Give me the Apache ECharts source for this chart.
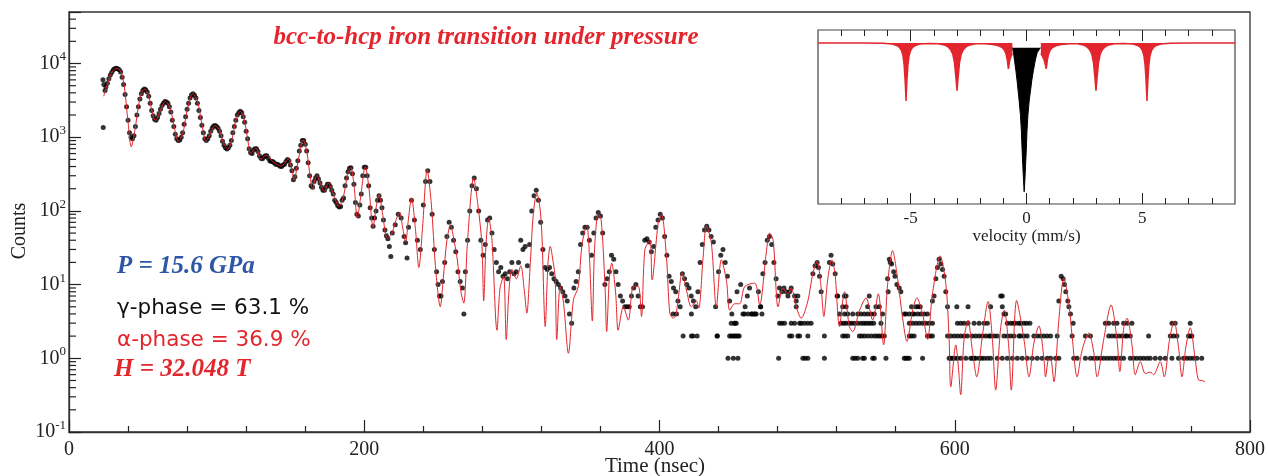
<!DOCTYPE html>
<html><head><meta charset="utf-8">
<script src="https://cdn.jsdelivr.net/npm/echarts@6/dist/echarts.min.js"></script>
<style>html,body{margin:0;padding:0;background:#fff}#c{width:1268px;height:476px}</style>
</head><body><div id="c"></div>
<script>
// ---------- main chart: fitted curve (time ns, counts) ----------
const redFit = [
[23.5,3600],[26,5200],[29,7600],[32.4,8600],[35,7900],[37.5,4800],[40,1600],[42.2,740],[44.5,1200],[47,2600],[49,3900],[51.2,4500],[54,3600],[56.5,2100],[58.6,1680],[61.5,2200],[65.3,3050],[68.5,2500],[71.5,1300],[74.1,880],[77,1100],[80,2300],[83.8,3900],[87,3100],[90,1500],[92.8,880],[95.5,1100],[98.9,1440],[102,1250],[104.5,850],[107.5,690],[110.5,950],[113,1700],[116,2250],[118.5,1800],[121,950],[123.2,600],[126.6,716],[130,500],[133.4,570],[137.8,470],[140,440],[143.5,405],[146,440],[148.6,510],[150.8,380],[152.5,265],[155,450],[158.6,926],[161,650],[163.5,280],[164.9,200],[167.8,300],[170.5,230],[172.8,184],[175.7,239],[179,170],[182.9,115],[186,160],[188.5,300],[190.8,390],[193,230],[195.3,80],[197.5,150],[200.7,400],[203,220],[206,60],[208,110],[210,165],[212.3,95],[215.6,43],[218.5,48],[221,70],[224,96],[226,60],[228,38],[230,80],[232,150],[234.7,56],[237,17],[239.5,60],[242.6,360],[245.5,120],[248.2,18],[251.5,5],[253.5,12],[256,40],[258.4,64],[261,38],[263,22],[265.5,8],[267.4,5.6],[270,40],[274.1,280],[277,120],[279.7,35],[280.9,6],[282.5,35],[284.3,80],[286.5,40],[289.9,2.4],[292,9],[294.4,13],[296.2,1.8],[298,8],[300,16],[303,12],[306,18],[308.5,8],[310.1,4.1],[312.5,20],[314.5,90],[316.9,175],[319,110],[320.3,50],[322.6,2.7],[324.5,20],[326,33],[328,20],[329.3,12.9],[330.4,1.8],[332.7,9.4],[335,5.6],[338.3,1.17],[341.7,6.2],[345,9.4],[347.5,35],[350.7,64],[352.5,25],[354.5,3.2],[356,30],[358.5,92],[360.5,75],[363.1,9.4],[364.2,2.3],[366,12],[367.6,19.6],[370.3,7.7],[372,2.4],[375.5,5],[378.9,3.3],[382.2,9.4],[385.6,9.5],[387.8,3.7],[390.1,29.7],[393.5,40],[395,11.6],[399.1,68],[401.4,89],[404.7,24],[407,4.1],[409.3,3.5],[411,3.8],[412.6,6.2],[415.3,14.3],[418.2,8.5],[421.6,5],[425,6],[426.6,4.8],[429.5,23],[431.8,62],[435.1,37],[438.5,5],[441.9,21.7],[445.3,11.6],[447.6,4.5],[450.9,5.5],[454.3,5.5],[457.7,9.4],[464.5,10.5],[467.8,5.3],[472.3,26.8],[474.6,50],[477,40],[479,8.5],[480.2,5],[483.6,9],[487,7.5],[489.2,9],[492.6,5],[496,3.5],[500.5,6],[503.9,14.3],[506.8,20.6],[509.5,9],[511.3,3.7],[514,12],[516.7,21.7],[518.9,14],[521.9,2.7],[525.3,8],[528.6,2.7],[530.9,2.3],[535.4,4.4],[539.9,6.6],[544.4,3.3],[548.2,7.5],[551.8,1.52],[554.5,10],[557.9,29],[561.3,12],[564.7,3.5],[567.6,1.69],[571.4,4.4],[574.3,6.6],[578.2,4],[581.6,1.8],[584.9,7.5],[590.1,24.6],[594,10],[596.2,1.8],[597.3,0.41],[600.7,1.52],[602.5,0.75],[604,0.32],[606.3,1.8],[609,3.3],[611.9,1.3],[614.9,0.56],[618.7,2],[622.6,5.9],[625.5,1.8],[627.7,0.37],[631.1,2.6],[633.5,4.5],[636.5,1.5],[638.3,0.37],[641.9,6.1],[646.9,1.8],[650.3,0.56],[653.6,1.6],[657,2.75],[660.4,1],[661.5,0.56],[663.8,1],[665.3,0.95],[667.2,0.48],[670.5,3.3],[673.9,12.3],[677.3,5.5],[679.5,2],[682.9,0.56],[686.3,1.3],[690.8,2.2],[694.2,1.2],[696.4,0.56],[700.9,1.8],[705.9,5.3],[709.9,1.8],[711.8,0.66],[714.5,2.6],[716.7,3.5],[720.1,1.5],[722.3,0.6],[725.7,0.9],[729.1,0.62],[732.4,0.65],[734.7,0.6],[739.2,0.9],[741.9,0.56],[745.5,1.8],[748.6,3.2],[751.6,1.4],[753.9,0.56],[756.5,1.4],[759.5,2.6],[762.8,1],[765.1,0.51],[767.4,0.5],[769.6,0.48]
];

// ---------- measured counts (time ns, counts) ----------
const dotsMain = [
[23,6000],[23.2,1350],[23.6,5200],[24.4,4300],[26,5400],[28,7000],[30,8200],[32,8600],[34,8200],[36,6500],[38,3800],[40,1700],[42,1000],[44,1050],[46,2000],[48,3300],[50,4300],[52,4400],[54,3600],[56,2300],[58,1750],[60,1850],[62,2400],[64,2900],[66,3000],[68,2600],[70,1700],[72,1100],[74,900],[76,1000],[78,1500],[80,2400],[82,3400],[84,3900],[86,3400],[88,2300],[90,1450],[92,950],[94,950],[96,1200],[98,1420],[100,1400],[102,1200],[104,880],[106,720],[108,720],[110,900],[112,1400],[114,2000],[116,2250],[118,1900],[120,1200],[122,700],[124,600],[126,700],[128,640],[130,520],[132,540],[134,560],[136,480],[138,470],[140,430],[142,420],[144,400],[146,430],[148,500],[150,420],[152,265],[154,380],[156,650],[158,900],[160,800],[162,450],[164,220],[166,250],[168,300],[170,240],[172,190],[174,210],[176,230],[178,190],[180,140],[182,118],[184,115],[186,150],[188,280],[190,380],[192,320],[194,130],[196,85],[198,170],[200,390],[202,300],[204,110],[206,62],[208,100],[210,160],[212,110],[214,55],[216,42],[217,33],[218,24],[219,50],[221,65],[223,90],[225,80],[227,45],[228,37],[229,23],[230,60],[232,140],[234,75],[236,40],[238,30],
[240,120],[241.5,250],[243,350],[244.5,250],[246,90],[247.5,30],[249,15],[250,10],[251,7],[252,7],[253,11],[254.5,20],[256,45],[257.5,70],[259,60],[260.5,40],[262,28],[263.5,15],[265,11],[266.5,9],[267.5,4],[268.5,15],[270,40],[271.5,100],[273,220],[274.5,280],[276,200],[277.5,100],[279,40],[280.5,25],[282,35],[283.5,75],[285,80],[286.5,50],[288,30],[289.5,20],[291,15],[292.5,17],[294,13],[295.5,14],[297,12],[298.5,15],[300,20],[301.5,14],[303,15],[304.5,20],[306,40],[307.5,30],[309,33],[310.5,18],[312,35],[313.5,100],[315,160],[316.5,190],[318,140],[319.5,70],[321,30],[322.5,17],[324,16],[325.5,17],[327,14],[328.5,12],[330,11],[331.5,10],[333,9],[334.5,8],[336,7],[337.5,6],[339,4],[340.5,3],[342,9],[343.5,11],[345,15],[346.5,35],[348,50],[349.5,60],[351,60],[352.5,40],[354,25],[355.5,50],[357,80],[358.5,95],[360,85],[361.5,50],[363,10],[364.5,12],[366,15],[367.5,25],[369,22],[370.5,15],[372,10],[373.5,7],[375,6],[376.5,5],[378,5],[379.5,5],[381,7],[382.5,9],[384,10],[385.5,7],[387,5],[388.5,5],[390,40],[391.5,42],[393,38],[394.5,28],[396,33],[397.5,60],[399,75],[400.5,90],[402,80],[403.5,45],[405,25],[406.5,13],[408,11],[409.5,9],[411,8],[412.5,6],[414,5],[415.5,14],[417,12],[418.5,10],[420,9],[421.5,7],[423,6],[424.5,5],[425.5,2],[426,8],[427.5,20],[429,35],[430.5,55],[432,62],[433.5,55],[435,45],[436.5,38],[438,5],[439,2],[440,15],[441.5,25],[443,30],[444.5,20],[446,13],[447.5,6],[449,4],[450,1],[451,3],[452.5,8],[454,2],[455,10],[456.5,4],[458,5],[459.5,7],[461,9],[462.5,4],[464,4],[465.5,4],[467,8],[468.5,5],[470,14],[471.5,20],[473,40],[474.5,45],[476,35],[477.5,20],[479,12]
];
// additional dots read at odd times in the dense early part
const dotsEarlyOdd = [
[25,4800],[27,6200],[29,7600],[31,8500],[33,8500],[35,7700],[37,5200],[39,2600],[41,1150],[43,950],[45,1400],[47,2600],[49,3900],[51,4500],[53,4100],[55,2900],[57,1950],[59,1700],[61,2100],[63,2700],[65,3050],[67,2900],[69,2200],[71,1400],[73,950],[75,920],[77,1150],[79,1900],[81,2900],[83,3750],[85,3700],[87,2900],[89,1850],[91,1150],[93,900],[95,1050],[97,1330],[99,1440],[101,1320],[103,1050],[105,780],[107,690],[109,780],[111,1150],[113,1700],[115,2150],[117,2150],[119,1600],[121,950],[123,620],[125,670],[127,700],[129,560],[131,510],[133,560],[135,520],[137,470],[139,450],[141,430],[143,405],[145,420],[147,470],[149,480],[151,350],[153,290],[155,480],[157,780],[159,900],[161,650],[163,300],[165,210],[167,280],[169,270],[171,210],[173,190],[175,230],[177,215],[179,170],[181,130],[183,113],[185,140],[187,220],[189,340],[191,385],[193,230],[195,90],[197,120],[199,300],[201,390],[203,220],[205,80],[207,80],[209,140],[211,140],[213,75],[215,46]
];
const dotsPeaks = [
[480.2,7],[481.3,9],[482.9,8],[484.3,9],[485.8,8],[487,7],[488.1,8],[489.2,9],[491.5,7],[492.6,6],[493.7,7],
[503.9,14],[505.4,18],[506.8,20],[507.7,17],[508.4,13],[509.5,8],
[515.1,20],[516.2,25],[517.4,19],[519,14],[520.3,7],[520.7,7],[525.2,7],[526.4,7],[542.1,7],
[554.5,12],[554.9,8],[555.7,22],[556.3,20],[557.2,19],[558.6,15],[559.5,13],[560.8,10],[562.4,9],[563.5,8],
[584.9,6],[586,7],[587.2,12],[588.3,17],[589.4,22],[590.6,19],[591.7,16],[592.8,13],[593.9,8],
[631.1,7],[632.2,7],
[670.5,6],[672.1,13],[673.4,12],[674.3,10],[675.2,8],[676.6,6],[677.3,5],[678.4,4]
];
// times (ns) of dots lying on the integer-count rows in the tail
const row1Times = [446.4,453.1,480.7,497.1,498.7,500.5,511.7,530.9,532.5,534.3,537.6,538.8,544.4,545.5,553.4,565.8,566.9,568,569.2,578.2,596.2,597.3,598.4,600,601.8,604.1,607.5,610.8,612,613.1,614.2,616.5,618,619.8,622.1,624.3,628.8,632.2,635.6,639,642.4,645.7,649.1,652.5,655.9,659.2,662.6,664.9,668.3,670.5,680.6,682.9,688.5,691.9,694.2,696.4,698.7,700.9,703.2,705.4,707.7,709.9,712.2,714.4,718.9,721.2,723.4,725.7,727.9,730.2,732.4,735.8,739.2,742.6,747.1,751.6,755,757.2,759.5,761.7,764,767.3];
const row2Times = [416,421.6,422.7,439.2,447.5,448.6,449.8,450.9,452,453.1,488.1,489.6,493.7,494.9,500.5,511.7,524.1,525.7,527.5,535.4,537,538.8,541,543.3,545.5,547.3,548.9,550.5,552.3,569.2,570.7,572.5,581.5,583.4,584.9,595.1,597.3,599.6,601.8,604.1,606.3,608.6,611.9,614.2,616.5,618.7,621,623.2,624.3,626.6,628.8,633.3,635.6,637.9,640.1,643.5,644.6,646.9,649.1,653.6,655.9,658.1,660.4,662.6,664.9,669.4,679.5,688.5,691.9,704.3,706.5,708.8,711.1,713.3,715.5,716.7,718.9,731.3,746,748.2,750.5,758.3,759.5,760.6];
const row3Times = [448.6,450.9,452,481.3,482.9,484.7,489.2,491.5,494.9,496,498.2,500.5,502.7,523,524.8,526.4,528.6,530.2,532,534.3,536.5,538.3,539.9,541.7,543.3,545.1,550,569.2,571.4,573.7,575.9,578.2,580.4,582.7,584.9,601.8,604.1,606.3,609,613.1,616.5,619.8,622.1,635.6,637.9,639.7,641.2,643.5,644.6,646.9,648.7,650.9,680.2,702,704.3,707.7,709.9,714.4,716.7,720,747.1,749.3,759.5];
const row4Times = [409.2,411.5,421.6,457.6,460,462.5,464.7,469.4,521.9,525.3,527.5,530.9,534.3,536.5,538.8,541,543.3,545.5,551.1,565.8,566.9,569.2,571.4,572.5,574.8,577,579.3,581.5,633.3,634.5];
const row5Times = [468.5,492.6,524.1,526.4,541,546.6,548.9,570.7,573.7,575.2,576.6,595.1,601.4,609,624.3,632.2];

// axis tick values
const xMajorTicks = [0, 200, 400, 600, 800];
const yMinorTicks = [0.2,0.3,0.4,0.5,0.6,0.7,0.8,0.9,2,3,4,5,6,7,8,9,20,30,40,50,60,70,80,90,200,300,400,500,600,700,800,900,2000,3000,4000,5000,6000,7000,8000,9000,20000,30000,40000];

// ---------- inset: spectrum (velocity mm/s, transmission) ----------
const insetRed = [
[-9,1],[-7,1],[-6.2,0.998],[-5.8,0.993],[-5.6,0.985],[-5.48,0.972],[-5.4,0.955],[-5.33,0.92],[-5.28,0.86],[-5.24,0.77],[-5.21,0.68],[-5.2,0.64],[-5.19,0.68],[-5.16,0.77],[-5.12,0.86],[-5.07,0.92],[-5.0,0.955],[-4.92,0.972],[-4.8,0.985],[-4.6,0.993],[-4.2,0.997],
[-3.8,0.995],[-3.55,0.988],[-3.4,0.977],[-3.28,0.96],[-3.18,0.93],[-3.11,0.88],[-3.05,0.79],[-3.01,0.72],[-3.0,0.704],[-2.99,0.72],[-2.95,0.79],[-2.89,0.88],[-2.82,0.93],[-2.72,0.96],[-2.6,0.977],[-2.45,0.988],[-2.2,0.995],
[-1.8,0.995],[-1.45,0.99],[-1.2,0.982],[-1.05,0.972],[-0.95,0.955],[-0.88,0.93],[-0.83,0.895],[-0.8,0.86],[-0.78,0.839],[-0.76,0.86],[-0.72,0.895],[-0.66,0.92],[-0.61,0.935],
[0,null],
[0.62,0.935],[0.68,0.92],[0.76,0.895],[0.82,0.86],[0.85,0.839],[0.87,0.86],[0.9,0.895],[0.95,0.93],[1.02,0.955],[1.12,0.972],[1.27,0.982],[1.5,0.99],[1.85,0.995],
[2.2,0.995],[2.45,0.988],[2.6,0.977],[2.72,0.96],[2.82,0.93],[2.89,0.88],[2.95,0.79],[2.99,0.72],[3.0,0.704],[3.01,0.72],[3.05,0.79],[3.11,0.88],[3.18,0.93],[3.28,0.96],[3.4,0.977],[3.55,0.988],[3.8,0.995],
[4.2,0.997],[4.6,0.993],[4.8,0.985],[4.92,0.972],[5.0,0.955],[5.07,0.92],[5.12,0.86],[5.16,0.77],[5.19,0.68],[5.2,0.64],[5.21,0.68],[5.24,0.77],[5.28,0.86],[5.33,0.92],[5.4,0.955],[5.48,0.972],[5.6,0.985],[5.8,0.993],[6.2,0.998],[7,1],[9,1]
];
const insetBlack = [
[-0.6,0.971],[-0.56,0.94],[-0.52,0.894],[-0.46,0.83],[-0.41,0.77],[-0.36,0.7],[-0.32,0.646],[-0.26,0.55],[-0.22,0.45],[-0.19,0.335],[-0.16,0.24],[-0.13,0.15],[-0.1,0.076],[-0.07,0.15],[-0.04,0.24],[-0.01,0.335],[0.02,0.45],[0.06,0.55],[0.12,0.646],[0.17,0.7],[0.23,0.77],[0.3,0.83],[0.38,0.894],[0.46,0.94],[0.6,0.971]
];
const insetMajorTicks = [-5, 0, 5];
const insetMinorTicks = [-8,-7,-6,-4,-3,-2,-1,1,2,3,4,6,7,8];

const RED = '#e3262d', AX = '#222', SERIF = '"Liberation Serif", "DejaVu Serif", serif';

const tailDots = [].concat(
  row1Times.map(t => [t, 1]), row2Times.map(t => [t, 2]), row3Times.map(t => [t, 3]),
  row4Times.map(t => [t, 4]), row5Times.map(t => [t, 5]));
const allDots = dotsMain.concat(dotsEarlyOdd, dotsPeaks, tailDots);

const chart = echarts.init(document.getElementById('c'), null, {renderer: 'canvas'});

function insetX(pos, ticks, len, showLabel, name) {
  return {
    type: 'value', gridIndex: 1, position: pos, min: -9, max: 9,
    axisLine: {show: false}, splitLine: {show: false},
    axisTick: {show: true, inside: true, length: len, customValues: ticks, lineStyle: {color: AX, width: 1}},
    axisLabel: showLabel ? {show: true, customValues: ticks, fontFamily: SERIF, fontSize: 17, color: '#222', margin: 6} : {show: false},
    name: name || '', nameLocation: 'middle', nameGap: 22,
    nameTextStyle: {fontFamily: SERIF, fontSize: 17, color: '#222'}
  };
}

chart.setOption({
  animation: false,
  backgroundColor: '#fff',
  grid: [
    {left: 69, top: 12, width: 1184, height: 420, show: true, borderColor: '#333', borderWidth: 1.3, backgroundColor: 'transparent'},
    {left: 818, top: 30, width: 417, height: 174, show: true, borderColor: '#444', borderWidth: 1.2, backgroundColor: '#fff'}
  ],
  xAxis: [
    {type: 'value', gridIndex: 0, min: 0, max: 800, interval: 200,
     axisLine: {show: true, lineStyle: {color: '#333', width: 1.3}},
     axisTick: {show: true, inside: true, length: 12, lineStyle: {color: AX, width: 1.2}},
     minorTick: {show: true, splitNumber: 5, length: 6, lineStyle: {color: AX, width: 1.2}},
     splitLine: {show: false},
     axisLabel: {fontFamily: SERIF, fontSize: 20, color: '#222', margin: 8, customValues: xMajorTicks}},
    insetX('bottom', insetMajorTicks, 11, true, 'velocity (mm/s)'),
    insetX('bottom', insetMinorTicks, 6, false),
    insetX('top', insetMajorTicks, 11, false),
    insetX('top', insetMinorTicks, 6, false)
  ],
  yAxis: [
    {type: 'log', gridIndex: 0, position: 'left', logBase: 10, min: 0.1, max: 50000,
     axisLine: {show: true, lineStyle: {color: '#333', width: 1.3}},
     axisTick: {show: true, inside: true, length: 12, lineStyle: {color: AX, width: 1.2}},
     splitLine: {show: false},
     axisLabel: {
       margin: 3,
       formatter: function (v) {
         const l = Math.log10(v), e = Math.round(l);
         if (Math.abs(l - e) > 1e-6) return '';
         return '{b|10}{s|' + e + '}';
       },
       rich: {
         b: {fontFamily: SERIF, fontSize: 20, color: '#222', lineHeight: 26},
         s: {fontFamily: SERIF, fontSize: 13, color: '#222', lineHeight: 11, verticalAlign: 'top'}
       }
     }},
    {type: 'value', gridIndex: 1, min: 0, max: 1.0807, show: false}
  ],
  series: [
    {type: 'scatter', xAxisIndex: 0, yAxisIndex: 0, data: allDots, symbol: 'circle', symbolSize: 5,
     itemStyle: {color: '#000'}, z: 2, silent: true},
    {type: 'line', xAxisIndex: 0, yAxisIndex: 0, data: redFit, showSymbol: false, smooth: 0.3,
     lineStyle: {color: RED, width: 1}, z: 3, silent: true},
    // minor log ticks on the left axis, positioned through the log scale
    {type: 'custom', xAxisIndex: 0, yAxisIndex: 0, silent: true, z: 5, clip: false,
     data: yMinorTicks.map(v => [0, v]),
     renderItem: function (params, api) {
       const p = api.coord([0, api.value(1)]);
       return {type: 'line', shape: {x1: p[0], y1: p[1], x2: p[0] + 7, y2: p[1]}, style: {stroke: AX, lineWidth: 1.2}};
     }},
    {type: 'line', xAxisIndex: 1, yAxisIndex: 1, data: insetRed, showSymbol: false, connectNulls: false,
     lineStyle: {color: RED, width: 1.5}, areaStyle: {color: RED, opacity: 1, origin: 1.0}, z: 4, silent: true},
    {type: 'line', xAxisIndex: 1, yAxisIndex: 1, data: insetBlack, showSymbol: false,
     lineStyle: {color: '#000', width: 1}, areaStyle: {color: '#000', opacity: 1, origin: 0.971}, z: 4, silent: true}
  ],
  graphic: [
    {type: 'text', x: 486, y: 38, z: 10, style: {text: 'bcc-to-hcp iron transition under pressure', font: 'italic bold 25px ' + SERIF, fill: RED, align: 'center', verticalAlign: 'middle', textAlign: 'center', textVerticalAlign: 'middle'}},
    {type: 'text', x: 117, y: 267, z: 10, style: {text: 'P = 15.6 GPa', font: 'italic bold 25px ' + SERIF, fill: '#2d56a6', align: 'left', verticalAlign: 'middle', textAlign: 'left', textVerticalAlign: 'middle'}},
    {type: 'text', x: 117, y: 308, z: 10, style: {text: 'γ-phase = 63.1 %', font: '21.5px "DejaVu Sans", sans-serif', fill: '#111', align: 'left', verticalAlign: 'middle', textAlign: 'left', textVerticalAlign: 'middle'}},
    {type: 'text', x: 117, y: 340, z: 10, style: {text: 'α-phase = 36.9 %', font: '21.5px "DejaVu Sans", sans-serif', fill: RED, align: 'left', verticalAlign: 'middle', textAlign: 'left', textVerticalAlign: 'middle'}},
    {type: 'text', x: 114, y: 370, z: 10, style: {text: 'H = 32.048 T', font: 'italic bold 25px ' + SERIF, fill: RED, align: 'left', verticalAlign: 'middle', textAlign: 'left', textVerticalAlign: 'middle'}},
    {type: 'text', x: 20, y: 231, rotation: Math.PI / 2, z: 10, style: {text: 'Counts', font: '20px ' + SERIF, fill: '#222', align: 'center', verticalAlign: 'middle', textAlign: 'center', textVerticalAlign: 'middle'}},
    {type: 'text', x: 655, y: 466, z: 10, style: {text: 'Time (nsec)', font: '21px ' + SERIF, fill: '#222', align: 'center', verticalAlign: 'middle', textAlign: 'center', textVerticalAlign: 'middle'}}
  ]
});
</script>
</body></html>
